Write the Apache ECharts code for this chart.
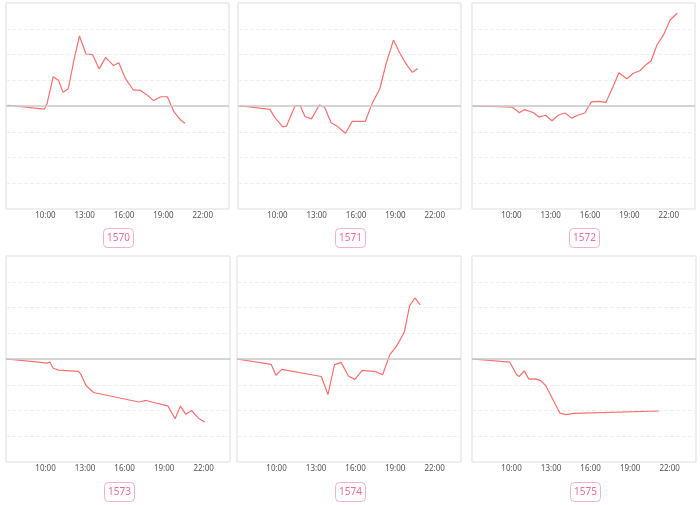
<!DOCTYPE html>
<html>
<head>
<meta charset="utf-8">
<script src="https://cdn.jsdelivr.net/npm/echarts@6/dist/echarts.min.js"></script>
<style>
html,body{margin:0;padding:0;background:#fff;}
#chart{width:700px;height:505px;}
</style>
</head>
<body>
<div id="chart"></div>
<script>
// panel names
const panelNames = ['1570', '1571', '1572', '1573', '1574', '1575'];

// per-panel time stamps and values
const times1570 = ['07:07','09:56','10:08','10:36','11:00','11:21','11:45','12:11','12:36','13:06','13:36','14:06','14:36','15:12','15:36','16:06','16:42','17:12','17:42','18:15','18:48','19:18','19:48','20:18','20:39'];
const values1570 = [0.03,-0.12,0.1,1.14,1.0,0.53,0.67,1.79,2.72,2.02,2.0,1.44,1.89,1.57,1.68,1.07,0.62,0.62,0.45,0.21,0.36,0.36,-0.22,-0.54,-0.67];

const times1571 = ['07:07','09:26','09:48','10:24','10:42','11:21','11:45','12:06','12:36','13:12','13:36','14:06','14:36','15:12','15:42','16:12','16:42','17:15','17:48','18:18','18:51','19:21','19:54','20:18','20:42'];
const values1571 = [0.01,-0.13,-0.44,-0.8,-0.78,0.01,0.01,-0.41,-0.5,0.04,-0.05,-0.65,-0.8,-1.06,-0.6,-0.6,-0.6,0.13,0.65,1.66,2.56,2.04,1.57,1.31,1.46];

const times1572 = ['07:04','09:06','10:04','10:36','11:00','11:42','12:06','12:36','13:06','13:36','14:06','14:36','15:06','15:36','16:06','16:42','17:12','17:42','18:12','18:48','19:18','19:48','20:12','20:39','21:06','21:36','22:06','22:39'];
const values1572 = [0,-0.03,-0.04,-0.26,-0.14,-0.26,-0.43,-0.36,-0.57,-0.35,-0.27,-0.47,-0.35,-0.27,0.16,0.18,0.14,0.69,1.29,1.06,1.27,1.37,1.58,1.75,2.37,2.76,3.34,3.6];

const times1573 = ['07:01','09:05','10:05','10:20','10:35','11:00','12:30','12:42','13:05','13:39','17:05','17:39','18:12','19:17','19:50','20:14','20:39','21:05','21:35','22:05'];
const values1573 = [0,-0.1,-0.16,-0.12,-0.36,-0.43,-0.48,-0.61,-1.04,-1.3,-1.67,-1.61,-1.69,-1.82,-2.32,-1.83,-2.15,-2.0,-2.29,-2.45];

const times1574 = ['07:00','09:36','09:57','10:24','13:24','13:54','14:24','14:54','15:27','15:57','16:30','17:30','18:03','18:36','19:06','19:42','20:06','20:30','20:54'];
const values1574 = [0,-0.21,-0.63,-0.4,-0.68,-1.38,-0.22,-0.13,-0.66,-0.79,-0.44,-0.49,-0.61,0.17,0.49,1.05,2.06,2.37,2.1];

const times1575 = ['07:00','09:52','10:23','10:35','10:58','11:19','11:51','12:14','12:36','13:40','14:06','14:41','21:11'];
const values1575 = [0,-0.12,-0.61,-0.68,-0.46,-0.78,-0.77,-0.85,-1.04,-2.1,-2.16,-2.11,-2.02];

const allTimes = [times1570, times1571, times1572, times1573, times1574, times1575];
const allValues = [values1570, values1571, values1572, values1573, values1574, values1575];

function toHours(t) {
  const p = t.split(':');
  return Number(p[0]) + Number(p[1]) / 60;
}
function fmtHour(v) {
  const h = Math.round(v);
  return (h < 10 ? '0' : '') + h + ':00';
}

// layout
const gridBoxes = [
  {left: 6, top: 3, width: 223, height: 206},
  {left: 238, top: 3, width: 223, height: 206},
  {left: 472, top: 3, width: 223, height: 206},
  {left: 6, top: 256, width: 224, height: 206},
  {left: 237, top: 256, width: 224, height: 206},
  {left: 472, top: 256, width: 224, height: 206}
];
const labelPos = [
  {left: 103, top: 228},
  {left: 335, top: 228},
  {left: 569, top: 228},
  {left: 104, top: 482},
  {left: 335, top: 482},
  {left: 570, top: 482}
];

const grids = [], xAxes = [], yAxes = [], series = [], titles = [];
for (let i = 0; i < 6; i++) {
  grids.push(Object.assign({show: true, borderColor: '#dddddd', borderWidth: 1, backgroundColor: 'transparent'}, gridBoxes[i]));
  xAxes.push({
    type: 'value', gridIndex: i, min: 7, max: 24, interval: 3,
    axisLine: {show: false}, axisTick: {show: false}, splitLine: {show: false},
    axisLabel: {
      show: true, color: '#555', fontSize: 8, margin: 3,
      fontFamily: 'Noto Sans',
      showMinLabel: false, showMaxLabel: false,
      formatter: fmtHour
    }
  });
  yAxes.push({
    type: 'value', gridIndex: i, min: -4, max: 4, interval: 1,
    axisLine: {show: false}, axisTick: {show: false}, axisLabel: {show: false},
    splitLine: {show: true, lineStyle: {color: '#efefef', type: 'dashed', width: 1}}
  });
  const data = allTimes[i].map((t, k) => [toHours(t), allValues[i][k]]);
  series.push({
    type: 'line', xAxisIndex: i, yAxisIndex: i, data: data,
    showSymbol: false, symbol: 'none',
    lineStyle: {color: '#fb6f6f', width: 1.2},
    itemStyle: {color: '#fb6f6f'},
    silent: true,
    markLine: {
      silent: true, symbol: ['none', 'none'], label: {show: false},
      lineStyle: {color: '#c9c9c9', width: 1.5, type: 'solid'},
      data: [{yAxis: 0}],
      animation: false
    },
    z: 3
  });
  titles.push({
    text: panelNames[i],
    left: labelPos[i].left, top: labelPos[i].top,
    padding: [4, 4],
    borderColor: '#f6b0c6', borderWidth: 1, borderRadius: 4,
    textStyle: {color: '#ee6d98', fontSize: 10, fontWeight: 'normal', lineHeight: 12, fontFamily: 'Noto Sans'}
  });
}

const chart = echarts.init(document.getElementById('chart'), null, {renderer: 'canvas'});
chart.setOption({
  animation: false,
  backgroundColor: '#ffffff',
  title: titles,
  grid: grids,
  xAxis: xAxes,
  yAxis: yAxes,
  series: series
});
</script>
</body>
</html>
